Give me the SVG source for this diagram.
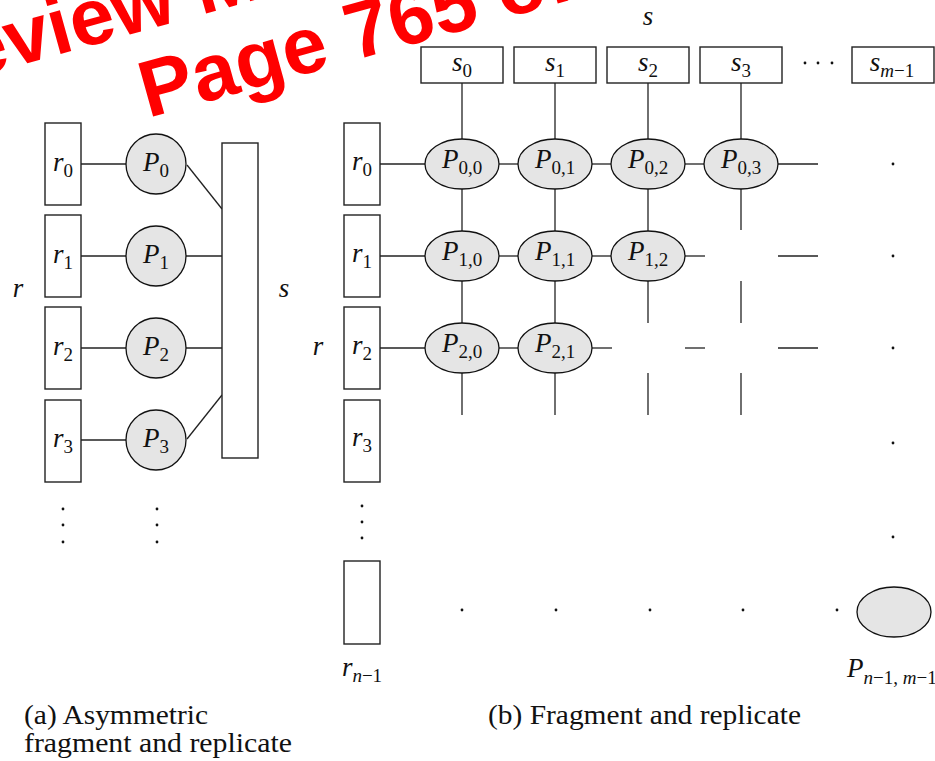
<svg xmlns="http://www.w3.org/2000/svg" width="935" height="761" viewBox="0 0 935 761">
<style>
.box{fill:#fff;stroke:#222;stroke-width:1.4}
.proc{fill:#e5e5e5;stroke:#111;stroke-width:1.3}
.ln{stroke:#222;stroke-width:1.3;fill:none}
.dot{fill:#111}
.lbl{font-family:"Liberation Serif",serif;font-style:italic;font-size:27px;fill:#111;text-anchor:middle}
.lbl-l{font-family:"Liberation Serif",serif;font-style:italic;font-size:27px;fill:#111}
.sub{font-style:normal;font-size:19px}
.subi{font-style:italic;font-size:19px}
.cap{font-family:"Liberation Serif",serif;font-size:27px;fill:#111}
.wm{font-family:"Liberation Sans",Arial,sans-serif;font-weight:bold;font-size:80px;fill:#ff0000}
</style>
<rect width="935" height="761" fill="#fff"/>

<!-- connectors -->
<g id="connectors" class="ln">
  <!-- (a) -->
  <line x1="81" y1="164" x2="126" y2="164"/>
  <line x1="81" y1="256" x2="126" y2="256"/>
  <line x1="81" y1="348" x2="126" y2="348"/>
  <line x1="81" y1="440" x2="126" y2="440"/>
  <line x1="187" y1="165" x2="222" y2="209"/>
  <line x1="186" y1="256" x2="222" y2="256"/>
  <line x1="186" y1="348" x2="222" y2="348"/>
  <line x1="187" y1="439" x2="222" y2="395"/>
  <!-- (b) horizontals -->
  <line x1="380" y1="164" x2="425" y2="164"/>
  <line x1="499" y1="164" x2="518" y2="164"/>
  <line x1="592" y1="164" x2="611" y2="164"/>
  <line x1="685" y1="164" x2="704" y2="164"/>
  <line x1="778" y1="164" x2="818" y2="164"/>
  <line x1="380" y1="256" x2="425" y2="256"/>
  <line x1="499" y1="256" x2="518" y2="256"/>
  <line x1="592" y1="256" x2="611" y2="256"/>
  <line x1="685" y1="256" x2="705" y2="256"/>
  <line x1="778" y1="256" x2="818" y2="256"/>
  <line x1="380" y1="348" x2="425" y2="348"/>
  <line x1="499" y1="348" x2="518" y2="348"/>
  <line x1="592" y1="348" x2="612" y2="348"/>
  <line x1="685" y1="348" x2="705" y2="348"/>
  <line x1="778" y1="348" x2="818" y2="348"/>
  <!-- (b) verticals -->
  <line x1="462" y1="83" x2="462" y2="139"/>
  <line x1="555" y1="83" x2="555" y2="139"/>
  <line x1="648" y1="83" x2="648" y2="139"/>
  <line x1="741" y1="83" x2="741" y2="139"/>
  <line x1="462" y1="189" x2="462" y2="231"/>
  <line x1="555" y1="189" x2="555" y2="231"/>
  <line x1="648" y1="189" x2="648" y2="231"/>
  <line x1="741" y1="189" x2="741" y2="230"/>
  <line x1="462" y1="281" x2="462" y2="323"/>
  <line x1="555" y1="281" x2="555" y2="323"/>
  <line x1="648" y1="281" x2="648" y2="323"/>
  <line x1="741" y1="281" x2="741" y2="323"/>
  <line x1="462" y1="373" x2="462" y2="415"/>
  <line x1="555" y1="373" x2="555" y2="415"/>
  <line x1="648" y1="373" x2="648" y2="415"/>
  <line x1="741" y1="373" x2="741" y2="415"/>
</g>

<!-- (a) nodes -->
<g id="a-r0"><rect class="box" x="45" y="123" width="36" height="82"/><text class="lbl" x="63" y="171">r<tspan class="sub" dy="6">0</tspan></text></g>
<g id="a-r1"><rect class="box" x="45" y="215" width="36" height="82"/><text class="lbl" x="63" y="263">r<tspan class="sub" dy="6">1</tspan></text></g>
<g id="a-r2"><rect class="box" x="45" y="307" width="36" height="82"/><text class="lbl" x="63" y="355">r<tspan class="sub" dy="6">2</tspan></text></g>
<g id="a-r3"><rect class="box" x="45" y="400" width="36" height="82"/><text class="lbl" x="63" y="447">r<tspan class="sub" dy="6">3</tspan></text></g>
<g id="a-P0"><circle class="proc" cx="156" cy="164" r="30"/><text class="lbl" x="156" y="171">P<tspan class="sub" dy="6">0</tspan></text></g>
<g id="a-P1"><circle class="proc" cx="156" cy="256" r="30"/><text class="lbl" x="156" y="263">P<tspan class="sub" dy="6">1</tspan></text></g>
<g id="a-P2"><circle class="proc" cx="156" cy="348" r="30"/><text class="lbl" x="156" y="355">P<tspan class="sub" dy="6">2</tspan></text></g>
<g id="a-P3"><circle class="proc" cx="156" cy="440" r="30"/><text class="lbl" x="156" y="447">P<tspan class="sub" dy="6">3</tspan></text></g>
<g id="a-s"><rect class="box" x="222" y="143" width="36" height="315"/></g>
<g id="a-labels">
  <text class="lbl" x="18" y="297">r</text>
  <text class="lbl" x="284" y="297">s</text>
  <circle class="dot" cx="63" cy="509" r="1.4"/><circle class="dot" cx="63" cy="525" r="1.4"/><circle class="dot" cx="63" cy="542" r="1.4"/>
  <circle class="dot" cx="157" cy="509" r="1.4"/><circle class="dot" cx="157" cy="525" r="1.4"/><circle class="dot" cx="157" cy="542" r="1.4"/>
</g>

<!-- (b) s fragments -->
<g id="b-s0"><rect class="box" x="421" y="47" width="82" height="36"/><text class="lbl" x="462" y="71">s<tspan class="sub" dy="6">0</tspan></text></g>
<g id="b-s1"><rect class="box" x="514" y="47" width="82" height="36"/><text class="lbl" x="555" y="71">s<tspan class="sub" dy="6">1</tspan></text></g>
<g id="b-s2"><rect class="box" x="607" y="47" width="82" height="36"/><text class="lbl" x="648" y="71">s<tspan class="sub" dy="6">2</tspan></text></g>
<g id="b-s3"><rect class="box" x="700" y="47" width="82" height="36"/><text class="lbl" x="741" y="71">s<tspan class="sub" dy="6">3</tspan></text></g>
<g id="b-sm1"><rect class="box" x="852" y="47" width="82" height="36"/><text class="lbl" x="892" y="71">s<tspan class="subi" dy="6">m</tspan><tspan class="sub">−1</tspan></text></g>

<!-- (b) r fragments -->
<g id="b-r0"><rect class="box" x="344" y="123" width="36" height="82"/><text class="lbl" x="362" y="170">r<tspan class="sub" dy="6">0</tspan></text></g>
<g id="b-r1"><rect class="box" x="344" y="215" width="36" height="82"/><text class="lbl" x="362" y="262">r<tspan class="sub" dy="6">1</tspan></text></g>
<g id="b-r2"><rect class="box" x="344" y="307" width="36" height="82"/><text class="lbl" x="362" y="354">r<tspan class="sub" dy="6">2</tspan></text></g>
<g id="b-r3"><rect class="box" x="344" y="400" width="36" height="82"/><text class="lbl" x="362" y="446">r<tspan class="sub" dy="6">3</tspan></text></g>
<g id="b-rn1"><rect class="box" x="344" y="561" width="36" height="83"/><text class="lbl" x="362" y="676">r<tspan class="subi" dy="6">n</tspan><tspan class="sub">−1</tspan></text></g>

<!-- (b) processors -->
<g id="P00"><ellipse class="proc" cx="462" cy="164" rx="37" ry="25"/><text class="lbl" x="462" y="168">P<tspan class="sub" dy="6">0,0</tspan></text></g>
<g id="P01"><ellipse class="proc" cx="555" cy="164" rx="37" ry="25"/><text class="lbl" x="555" y="168">P<tspan class="sub" dy="6">0,1</tspan></text></g>
<g id="P02"><ellipse class="proc" cx="648" cy="164" rx="37" ry="25"/><text class="lbl" x="648" y="168">P<tspan class="sub" dy="6">0,2</tspan></text></g>
<g id="P03"><ellipse class="proc" cx="741" cy="164" rx="37" ry="25"/><text class="lbl" x="741" y="168">P<tspan class="sub" dy="6">0,3</tspan></text></g>
<g id="P10"><ellipse class="proc" cx="462" cy="256" rx="37" ry="25"/><text class="lbl" x="462" y="260">P<tspan class="sub" dy="6">1,0</tspan></text></g>
<g id="P11"><ellipse class="proc" cx="555" cy="256" rx="37" ry="25"/><text class="lbl" x="555" y="260">P<tspan class="sub" dy="6">1,1</tspan></text></g>
<g id="P12"><ellipse class="proc" cx="648" cy="256" rx="37" ry="25"/><text class="lbl" x="648" y="260">P<tspan class="sub" dy="6">1,2</tspan></text></g>
<g id="P20"><ellipse class="proc" cx="462" cy="348" rx="37" ry="25"/><text class="lbl" x="462" y="352">P<tspan class="sub" dy="6">2,0</tspan></text></g>
<g id="P21"><ellipse class="proc" cx="555" cy="348" rx="37" ry="25"/><text class="lbl" x="555" y="352">P<tspan class="sub" dy="6">2,1</tspan></text></g>
<g id="Pnm"><ellipse class="proc" cx="894" cy="612" rx="37" ry="25"/><text class="lbl-l" x="847" y="677">P<tspan class="subi" dy="7">n</tspan><tspan class="sub">−1, </tspan><tspan class="subi">m</tspan><tspan class="sub">−1</tspan></text></g>

<g id="b-labels">
  <text class="lbl" x="648" y="25">s</text>
  <text class="lbl" x="318" y="355">r</text>
  <circle class="dot" cx="805" cy="63" r="1.4"/><circle class="dot" cx="818" cy="63" r="1.4"/><circle class="dot" cx="832" cy="63" r="1.4"/>
  <circle class="dot" cx="362" cy="506" r="1.4"/><circle class="dot" cx="362" cy="522" r="1.4"/><circle class="dot" cx="362" cy="538" r="1.4"/>
  <circle class="dot" cx="893" cy="164" r="1.4"/><circle class="dot" cx="893" cy="256" r="1.4"/><circle class="dot" cx="893" cy="348" r="1.4"/>
  <circle class="dot" cx="893" cy="443" r="1.4"/><circle class="dot" cx="893" cy="537" r="1.4"/>
  <circle class="dot" cx="462" cy="610" r="1.4"/><circle class="dot" cx="556" cy="610" r="1.4"/><circle class="dot" cx="650" cy="610" r="1.4"/>
  <circle class="dot" cx="743" cy="610" r="1.4"/><circle class="dot" cx="837" cy="610" r="1.4"/>
</g>

<g id="captions">
  <text class="cap" x="24" y="724" textLength="184" lengthAdjust="spacingAndGlyphs">(a) Asymmetric</text>
  <text class="cap" x="24" y="752" textLength="268" lengthAdjust="spacingAndGlyphs">fragment and replicate</text>
  <text class="cap" x="488" y="724" textLength="313" lengthAdjust="spacingAndGlyphs">(b) Fragment and replicate</text>
</g>

<g id="watermark">
  <text class="wm" transform="translate(-86,95) rotate(-15.6)">Review Material</text>
  <text class="wm" transform="translate(148,118) rotate(-15.6)">Page 765 of 1000</text>
</g>
</svg>
